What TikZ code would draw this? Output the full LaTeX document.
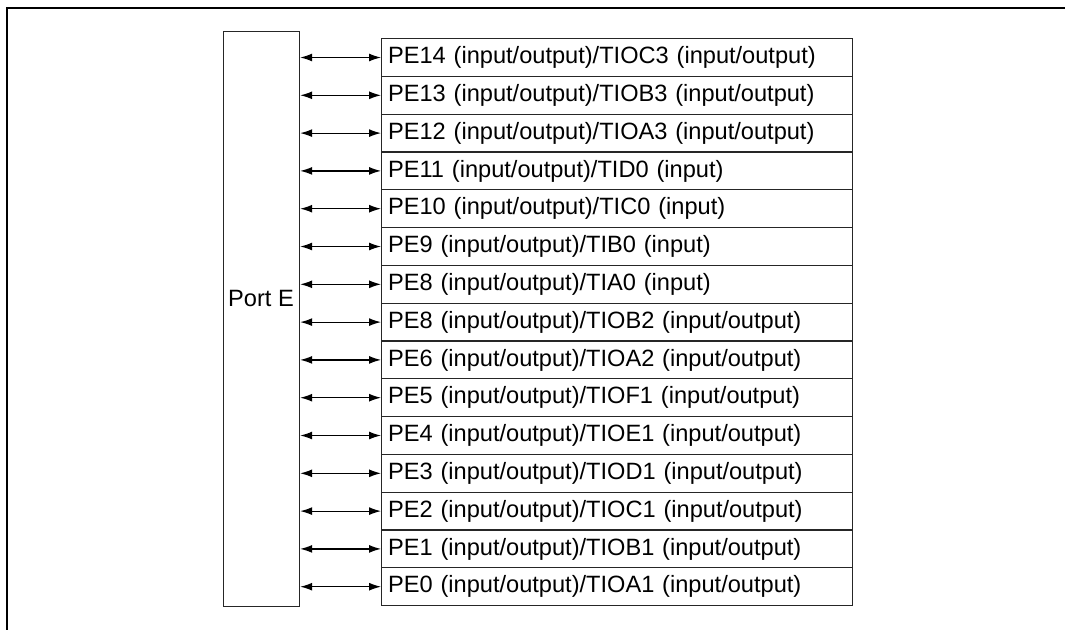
\documentclass[tikz,border=0pt]{standalone}
\usepackage{fontspec}
\setmainfont{Liberation Sans}
\usetikzlibrary{arrows.meta}
\tikzset{
  frame/.style={line width=2pt,black},
  boxline/.style={draw=black!85,line width=1.2pt},
  rowbox/.style={boxline,rectangle,minimum width=471pt,minimum height=37.8pt,
    text width=458pt,inner xsep=6.5pt,inner ysep=0pt,align=left,anchor=north west,
    font=\fontsize{23.6pt}{26pt}\selectfont},
  biarrow/.style={draw=black,line width=1.2pt,{Latex[length=12pt,width=8pt]}-{Latex[length=12pt,width=8pt]}}
}
\begin{document}
\begin{tikzpicture}[x=1pt,y=-1pt]
\useasboundingbox (0,0) rectangle (1065,630);
\coordinate (ftl) at (6.5,7.5);
\coordinate (ftr) at (1065,7.5);
\coordinate (fbl) at (6.5,630);
\draw[frame] (ftr) -- (ftl) -- (fbl);
\node[boxline,rectangle,minimum width=76pt,minimum height=575pt,anchor=north west,inner sep=0pt] (port) at (223,31) {};
\node[font=\fontsize{23.6pt}{26pt}\selectfont,inner sep=0pt] (porttxt) at (261,298) {Port E};
\foreach \i/\t in {
 1/{PE14 (input/output)/TIOC3 (input/output)},
 2/{PE13 (input/output)/TIOB3 (input/output)},
 3/{PE12 (input/output)/TIOA3 (input/output)},
 4/{PE11 (input/output)/TID0 (input)},
 5/{PE10 (input/output)/TIC0 (input)},
 6/{PE9 (input/output)/TIB0 (input)},
 7/{PE8 (input/output)/TIA0 (input)},
 8/{PE8 (input/output)/TIOB2 (input/output)},
 9/{PE6 (input/output)/TIOA2 (input/output)},
 10/{PE5 (input/output)/TIOF1 (input/output)},
 11/{PE4 (input/output)/TIOE1 (input/output)},
 12/{PE3 (input/output)/TIOD1 (input/output)},
 13/{PE2 (input/output)/TIOC1 (input/output)},
 14/{PE1 (input/output)/TIOB1 (input/output)},
 15/{PE0 (input/output)/TIOA1 (input/output)}} {
  \node[rowbox] (r\i) at (381,{38+(\i-1)*37.8}) {\t};
  \draw[biarrow] (port.east |- r\i.west) -- (r\i.west);
}
\end{tikzpicture}
\end{document}
